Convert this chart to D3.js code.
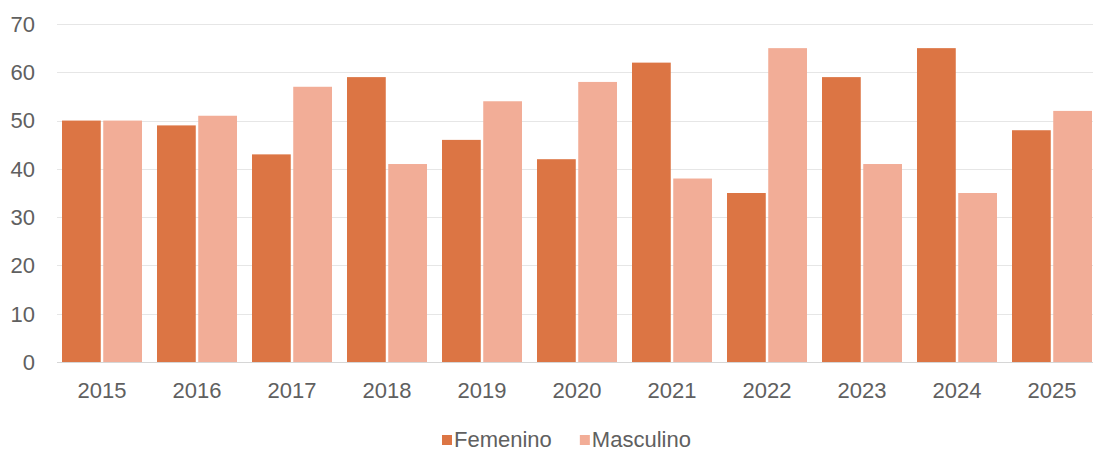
<!DOCTYPE html>
<html>
<head>
<meta charset="utf-8">
<script src="https://cdn.jsdelivr.net/npm/d3@7"></script>
<style>
  html, body { margin: 0; padding: 0; background: #fff; }
  svg { display: block; }
  text { font-family: "Liberation Sans", Arial, Helvetica, sans-serif; fill: #606060; }
</style>
</head>
<body>
<svg id="chart" width="1093" height="451"></svg>
<script>
// Data: share by sex per year
const years = ["2015","2016","2017","2018","2019","2020","2021","2022","2023","2024","2025"];
const femenino = [50, 49, 43, 59, 46, 42, 62, 35, 59, 65, 48];
const masculino = [50, 51, 57, 41, 54, 58, 38, 65, 41, 35, 52];
const seriesNames = ["Femenino", "Masculino"];
const yTicks = [0, 10, 20, 30, 40, 50, 60, 70];

const colors = { Femenino: "#dc7544", Masculino: "#f2ad97" };

const svg = d3.select("#chart");
const plot = { left: 57, right: 1093, top: 24, bottom: 362 };

const x = d3.scaleBand()
  .domain(years)
  .range([54.5, 1099.5])
  .paddingInner(0.158)
  .paddingOuter(0.079);

const xSub = d3.scaleBand()
  .domain(seriesNames)
  .range([0, x.bandwidth()])
  .paddingInner(0.06);

const y = d3.scaleLinear().domain([0, 70]).range([plot.bottom, plot.top]);

// Gridlines
svg.append("g")
  .selectAll("line")
  .data(yTicks)
  .join("line")
  .attr("x1", plot.left)
  .attr("x2", plot.right)
  .attr("y1", d => Math.round(y(d)) + 0.5)
  .attr("y2", d => Math.round(y(d)) + 0.5)
  .attr("stroke", d => d === 0 ? "#d6d6d6" : "#e6e6e6")
  .attr("stroke-width", 1);

// Y tick labels
svg.append("g")
  .selectAll("text")
  .data(yTicks)
  .join("text")
  .attr("x", 35)
  .attr("y", d => y(d))
  .attr("dy", "0.36em")
  .attr("text-anchor", "end")
  .attr("font-size", 22)
  .text(d => d);

// Bars
const rows = years.map((yr, i) => ({ year: yr, Femenino: femenino[i], Masculino: masculino[i] }));

const groups = svg.append("g")
  .selectAll("g")
  .data(rows)
  .join("g")
  .attr("transform", d => `translate(${x(d.year)},0)`);

groups.selectAll("rect")
  .data(d => seriesNames.map(k => ({ key: k, value: d[k] })))
  .join("rect")
  .attr("x", d => xSub(d.key))
  .attr("width", xSub.bandwidth())
  .attr("y", d => y(d.value))
  .attr("height", d => y(0) - y(d.value))
  .attr("fill", d => colors[d.key]);

// X axis labels
svg.append("g")
  .selectAll("text")
  .data(years)
  .join("text")
  .attr("x", d => x(d) + x.bandwidth() / 2)
  .attr("y", 398)
  .attr("text-anchor", "middle")
  .attr("font-size", 22)
  .text(d => d);

// Legend
const legend = svg.append("g").attr("transform", "translate(442,0)");
let lx = 0;
seriesNames.forEach(name => {
  const g = legend.append("g").attr("transform", `translate(${lx},0)`);
  g.append("rect")
    .attr("x", 0).attr("y", 435)
    .attr("width", 10).attr("height", 10)
    .attr("fill", colors[name]);
  const t = g.append("text")
    .attr("x", 12).attr("y", 447)
    .attr("font-size", 22)
    .text(name);
  lx += 12 + t.node().getComputedTextLength() + 28;
});
</script>
</body>
</html>
